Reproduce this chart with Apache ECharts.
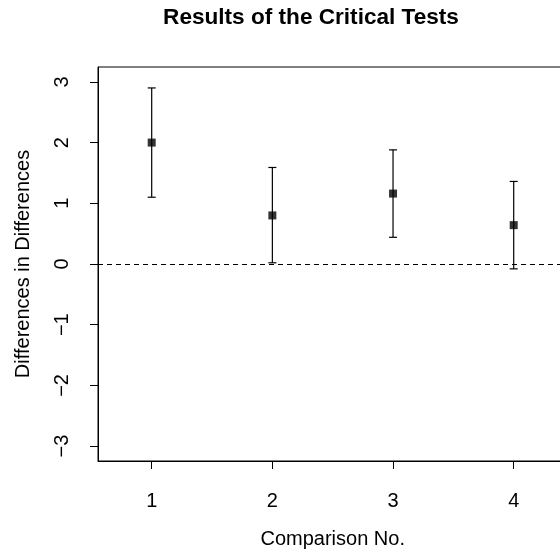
<!DOCTYPE html>
<html>
<head>
<meta charset="utf-8">
<script src="https://cdn.jsdelivr.net/npm/echarts@6/dist/echarts.min.js"></script>
<style>
  html, body { margin: 0; padding: 0; background: #fff; }
  #chart { width: 560px; height: 550px; }
</style>
</head>
<body>
<div id="chart"></div>
<script>
// Comparisons and their estimated differences-in-differences with interval bounds
const comparisons = [1, 2, 3, 4];
const estimates   = [2.00, 0.80, 1.16, 0.64];
const lowerBounds = [1.10, 0.02, 0.44, -0.08];
const upperBounds = [2.90, 1.59, 1.88, 1.36];

const xTicks = [1, 2, 3, 4];
const yTicks = [-3, -2, -1, 0, 1, 2, 3];

const FONT = 'Liberation Sans, Arial, sans-serif';
const fmtNum = v => (v < 0 ? '\u2212' + Math.abs(v) : String(v));

const chart = echarts.init(document.getElementById('chart'), null, { renderer: 'canvas' });

chart.setOption({
  animation: false,
  backgroundColor: '#ffffff',
  title: {
    text: 'Results of the Critical Tests',
    left: 306,
    top: 1,
    textAlign: 'center',
    textStyle: { fontFamily: FONT, fontWeight: 'bold', fontSize: 22.6, color: '#000' }
  },
  grid: {
    left: 98, top: 67, width: 469.4, height: 394,
    outerBoundsMode: 'none',
    containLabel: false,
    show: true, borderColor: '#000', borderWidth: 1, backgroundColor: 'transparent'
  },
  xAxis: {
    type: 'value',
    min: 0.555, max: 4.445,
    name: 'Comparison No.',
    nameLocation: 'middle',
    nameGap: 68,
    nameTextStyle: { fontFamily: FONT, fontSize: 20, color: '#000' },
    axisLine: { show: true, onZero: false, lineStyle: { color: '#000', width: 1 } },
    axisTick: { show: true, inside: false, length: 8, customValues: xTicks, lineStyle: { color: '#000' } },
    axisLabel: { customValues: xTicks, margin: 30, fontFamily: FONT, fontSize: 20, color: '#000' },
    splitLine: { show: false }
  },
  yAxis: {
    type: 'value',
    min: -3.245, max: 3.245,
    name: 'Differences in Differences',
    nameLocation: 'middle',
    nameRotate: 90,
    nameGap: 65,
    nameTextStyle: { fontFamily: FONT, fontSize: 20, color: '#000' },
    axisLine: { show: true, onZero: false, lineStyle: { color: '#000', width: 1 } },
    axisTick: { show: true, inside: false, length: 8, customValues: yTicks, lineStyle: { color: '#000' } },
    axisLabel: {
      customValues: yTicks, rotate: 90, margin: 26,
      fontFamily: FONT, fontSize: 20, color: '#000',
      formatter: v => fmtNum(v)
    },
    splitLine: { show: false }
  },
  series: [
    {
      // interval bars with end caps
      type: 'custom',
      data: comparisons.map((c, i) => [c, lowerBounds[i], upperBounds[i]]),
      renderItem: (params, api) => {
        const lo = api.coord([api.value(0), api.value(1)]);
        const hi = api.coord([api.value(0), api.value(2)]);
        const cap = 4;
        const style = { stroke: '#000', lineWidth: 1.2 };
        return {
          type: 'group',
          children: [
            { type: 'line', shape: { x1: lo[0], y1: lo[1], x2: hi[0], y2: hi[1] }, style },
            { type: 'line', shape: { x1: hi[0] - cap, y1: hi[1], x2: hi[0] + cap, y2: hi[1] }, style },
            { type: 'line', shape: { x1: lo[0] - cap, y1: lo[1], x2: lo[0] + cap, y2: lo[1] }, style }
          ]
        };
      },
      encode: { x: 0, y: [1, 2] },
      z: 3
    },
    {
      type: 'scatter',
      data: comparisons.map((c, i) => [c, estimates[i]]),
      symbol: 'rect',
      symbolSize: 8,
      itemStyle: { color: '#000' },
      z: 4,
      markLine: {
        silent: true,
        symbol: ['none', 'none'],
        label: { show: false },
        lineStyle: { color: '#000', type: [5, 4], width: 1 },
        data: [{ yAxis: 0 }]
      }
    }
  ]
});
</script>
</body>
</html>
